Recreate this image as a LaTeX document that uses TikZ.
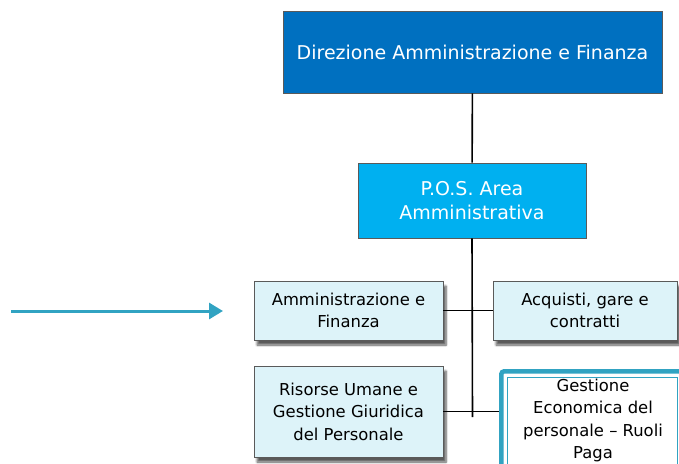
\documentclass[tikz,border=0pt]{standalone}
\usepackage{fontspec}
\setmainfont{DejaVu Sans}
\usetikzlibrary{arrows.meta,shadows.blur}
\definecolor{dirblue}{HTML}{0070C0}
\definecolor{posblue}{HTML}{00B0F0}
\definecolor{paleblue}{HTML}{DDF3F9}
\definecolor{edgegray}{HTML}{5A5A5A}
\definecolor{tealline}{HTML}{31A3C2}
\tikzset{
  headbox/.style={draw=edgegray, line width=0.8pt, fill=#1, text=white,
    align=center, inner sep=0pt, font=\fontsize{19}{24.5}\selectfont},
  unitbox/.style={draw=edgegray, line width=0.8pt, fill=paleblue, align=center,
    inner sep=0pt, font=\fontsize{16.4}{22.5}\selectfont,
    blur shadow={shadow xshift=3pt, shadow yshift=-5pt, shadow blur steps=6, shadow opacity=65}},
  link/.style={draw=black, line width=1.6pt},
  pointer/.style={draw=tealline, line width=3pt, -{Triangle[length=14pt,width=16pt]}}
}
\begin{document}
\begin{tikzpicture}[x=1pt,y=-1pt]
\useasboundingbox (0,0) rectangle (679,463);
\clip (0,0) rectangle (679,463);
% top management and area
\node[headbox=dirblue, minimum width=379pt, minimum height=82pt] (dir) at (472.5,52) {Direzione Amministrazione e Finanza};
\node[headbox=posblue, minimum width=228pt, minimum height=75pt] (pos) at (472,200.5) {P.O.S. Area\\Amministrativa};
% offices
\node[unitbox, minimum width=189pt, minimum height=59pt] (amm) at (348.5,310.5) {Amministrazione e\\Finanza};
\node[unitbox, minimum width=184pt, minimum height=59pt] (acq) at (585,310.5) {Acquisti, gare e\\contratti};
\node[unitbox, minimum width=189pt, minimum height=91pt] (ris) at (348.5,411.5) {Risorse Umane e\\Gestione Giuridica\\del Personale};
% highlighted office, double teal frame
\node[draw=tealline, line width=4.5pt, rounded corners=3pt, fill=white,
  minimum width=200pt, minimum height=110pt, anchor=north west] (gestframe) at (499,369) {};
\node[draw=tealline, line width=1.5pt, fill=white, minimum width=170pt, minimum height=100pt,
  anchor=north west] (gestin) at (506.5,376.5) {};
\node[align=center, font=\fontsize{16.4}{22.5}\selectfont, anchor=north] (gest) at (593,375)
  {Gestione\\Economica del\\personale – Ruoli\\Paga};
% connectors
\coordinate (j2) at (472.5,417);
\draw[link] (dir) -- (pos);
\draw[link] (pos.south) -- (j2);
\draw[link] (amm.east) -- (acq.west);
\draw[link] (ris.east) -- (ris.east -| gestframe.west);
% pointer arrow
\coordinate (ptail) at (11,311);
\coordinate (phead) at (223,311);
\draw[pointer] (ptail) -- (phead);
\end{tikzpicture}
\end{document}
